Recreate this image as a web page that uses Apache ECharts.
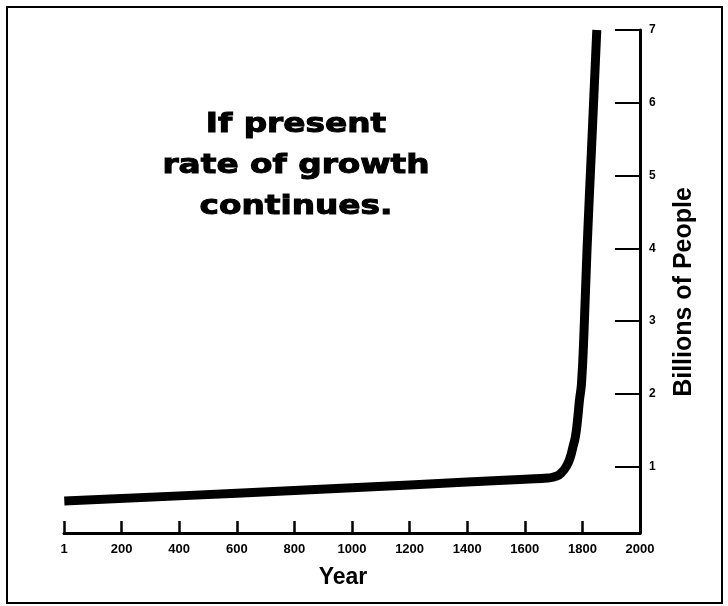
<!DOCTYPE html>
<html>
<head>
<meta charset="utf-8">
<script src="https://cdn.jsdelivr.net/npm/echarts@6/dist/echarts.min.js"></script>
<style>
	html, body { margin: 0; padding: 0; background: #fff; }
	#chart { width: 728px; height: 606px; }
</style>
</head>
<body>
<div id="chart"></div>
<script>
// world population, billions
const years = [1, 400, 800, 1200, 1600, 1680, 1710, 1730, 1745, 1757, 1767, 1776, 1783, 1790, 1797, 1806, 1816, 1832, 1850];
const billions = [0.53, 0.60, 0.675, 0.75, 0.83, 0.845, 0.87, 0.93, 1.01, 1.12, 1.27, 1.42, 1.64, 1.92, 2.15, 2.9, 3.98, 5.4, 7.0];

const xTickValues = [0, 200, 400, 600, 800, 1000, 1200, 1400, 1600, 1800, 2000];
const xTickLabels = ['1', '200', '400', '600', '800', '1000', '1200', '1400', '1600', '1800', '2000'];
const yTickValues = [1, 2, 3, 4, 5, 6, 7];

const titleLines = ['If present', 'rate of growth', 'continues.'];

let myChart = echarts.init(document.getElementById('chart'));

let seriesData = [];
for (let i = 0; i < years.length; i++) {
	seriesData.push([years[i], billions[i]]);
}

const labelFont = {
	color: '#000',
	fontFamily: '"Liberation Sans", Arial, sans-serif',
	fontWeight: 'bold'
};

let option = {
	animation: false,
	backgroundColor: '#fff',
	grid: {
		left: 64,
		right: 88,
		top: 30,
		bottom: 73
	},
	xAxis: {
		type: 'value',
		min: 0,
		max: 2000,
		interval: 200,
		name: 'Year',
		nameLocation: 'middle',
		nameGap: 33,
		nameTextStyle: Object.assign({}, labelFont, {
			fontSize: 23,
			padding: [0, 18, 0, 0]
		}),
		axisLine: { show: true, onZero: false, lineStyle: { color: '#000', width: 3 } },
		axisTick: { show: true, inside: true, length: 12, lineStyle: { color: '#000', width: 2.5 } },
		splitLine: { show: false },
		axisLabel: Object.assign({}, labelFont, {
			fontSize: 13,
			margin: 10,
			formatter: function(v) {
				let idx = xTickValues.indexOf(v);
				return idx >= 0 ? xTickLabels[idx] : '';
			}
		})
	},
	yAxis: {
		type: 'value',
		position: 'right',
		min: 0.09,
		max: 7,
		name: 'Billions of People',
		nameLocation: 'middle',
		nameRotate: 90,
		nameGap: 32,
		nameTextStyle: Object.assign({}, labelFont, {
			fontSize: 25,
			padding: [0, 21, 0, 0]
		}),
		axisLine: { show: true, onZero: false, lineStyle: { color: '#000', width: 3 } },
		axisTick: {
			show: true,
			inside: true,
			length: 25,
			customValues: yTickValues,
			lineStyle: { color: '#000', width: 2 }
		},
		splitLine: { show: false },
		axisLabel: Object.assign({}, labelFont, {
			fontSize: 12,
			margin: 9,
			customValues: yTickValues
		})
	},
	series: [{
		type: 'line',
		data: seriesData,
		showSymbol: false,
		smooth: 0.5,
		lineStyle: { color: '#000', width: 9, cap: 'butt', join: 'round' },
		itemStyle: { color: '#000' }
	}],
	graphic: [
		{
			type: 'rect',
			silent: true,
			shape: { x: 7, y: 7, width: 715, height: 596 },
			style: { fill: 'none', stroke: '#000', lineWidth: 2 }
		},
		{
			type: 'text',
			silent: true,
			x: 296,
			y: 166,
			scaleX: 1.26,
			style: {
				text: titleLines.join('\n'),
				x: 0,
				y: 0,
				align: 'center',
				verticalAlign: 'middle',
				lineHeight: 41,
				fontSize: 26,
				fontWeight: 'bold',
				fontFamily: '"DejaVu Sans", sans-serif',
				fill: '#000',
				stroke: '#000',
				lineWidth: 1
			}
		}
	]
};

myChart.setOption(option);
</script>
</body>
</html>
